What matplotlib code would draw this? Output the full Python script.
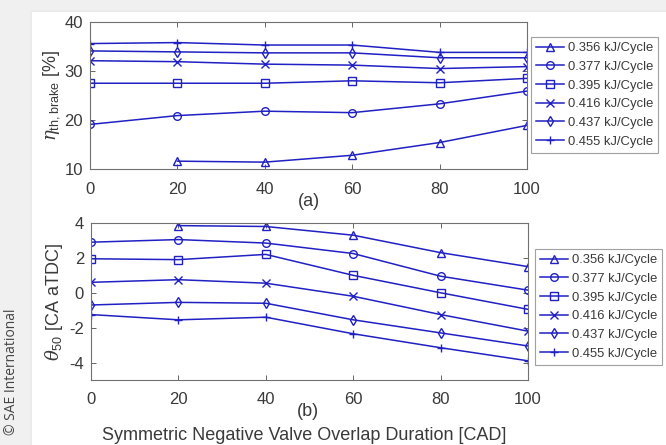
import numpy as np
import matplotlib
matplotlib.use("Agg")
import matplotlib.pyplot as plt
from matplotlib.patches import Rectangle

plt.rcParams["font.family"] = ["Liberation Sans", "DejaVu Sans"]
plt.rcParams["mathtext.fontset"] = "custom"
plt.rcParams["mathtext.rm"] = "Liberation Sans"
plt.rcParams["mathtext.it"] = "DejaVu Serif:italic"
plt.rcParams["axes.unicode_minus"] = False

# --- datos ---
nvo = [0, 20, 40, 60, 80, 100]
cargas = ["0.356 kJ/Cycle", "0.377 kJ/Cycle", "0.395 kJ/Cycle",
          "0.416 kJ/Cycle", "0.437 kJ/Cycle", "0.455 kJ/Cycle"]
marcadores = ["^", "o", "s", "x", "d", "+"]

eta_0356 = [np.nan, 11.6, 11.4, 12.8, 15.4, 18.9]
eta_0377 = [19.1, 20.9, 21.8, 21.5, 23.3, 25.9]
eta_0395 = [27.5, 27.5, 27.5, 28.0, 27.6, 28.5]
eta_0416 = [32.1, 31.9, 31.4, 31.2, 30.5, 30.9]
eta_0437 = [34.1, 33.9, 33.7, 33.7, 32.7, 32.7]
eta_0455 = [35.6, 35.8, 35.3, 35.3, 33.8, 33.8]

ca50_0356 = [np.nan, 3.85, 3.8, 3.3, 2.3, 1.5]
ca50_0377 = [2.9, 3.05, 2.85, 2.25, 0.95, 0.15]
ca50_0395 = [1.95, 1.9, 2.2, 1.0, 0.0, -0.95]
ca50_0416 = [0.6, 0.75, 0.55, -0.2, -1.25, -2.2]
ca50_0437 = [-0.7, -0.55, -0.6, -1.55, -2.3, -3.05]
ca50_0455 = [-1.25, -1.55, -1.4, -2.35, -3.15, -3.9]

eta = [eta_0356, eta_0377, eta_0395, eta_0416, eta_0437, eta_0455]
ca50 = [ca50_0356, ca50_0377, ca50_0395, ca50_0416, ca50_0437, ca50_0455]

azul = "#2020c4"
gris = "#3a3a3a"

fig = plt.figure(figsize=(6.66, 4.45), dpi=100)
fig.patch.set_facecolor("#f0f0f0")

# panel blanco con sombra suave
W, H = 666.0, 445.0
for i, a in enumerate([0.03, 0.05, 0.08]):
    d = 3 - i
    fig.patches.append(Rectangle(((32 - d) / W, 0), 1, 1 - (12 - d) / H,
                                 transform=fig.transFigure, facecolor="#d8d8d8",
                                 alpha=a, edgecolor="none", zorder=-10))
fig.patches.append(Rectangle((32 / W, 0), 1, 1 - 12 / H, transform=fig.transFigure,
                             facecolor="white", edgecolor="none", zorder=-5))

ax1 = fig.add_axes([90 / W, 1 - 169 / H, 437 / W, 147 / H])
ax2 = fig.add_axes([91 / W, 1 - 380 / H, 437 / W, 157 / H])

for ax, datos in [(ax1, eta), (ax2, ca50)]:
    ax.set_facecolor("none")
    for serie, m, lab in zip(datos, marcadores, cargas):
        ax.plot(nvo, serie, color=azul, marker=m, markersize=5.5, mew=1.0,
                markerfacecolor="none", lw=1.1, label=lab)
    ax.set_xlim(0, 100)
    ax.set_xticks([0, 20, 40, 60, 80, 100])
    ax.tick_params(direction="in", length=3.5, width=0.7, colors="#666666",
                   labelcolor=gris, labelsize=12, top=True, right=True)
    ax.tick_params(axis="x", pad=9)
    ax.tick_params(axis="y", pad=5)
    for s in ax.spines.values():
        s.set_color("#707070")
        s.set_linewidth(0.8)

ax1.set_ylim(10, 40)
ax1.set_yticks([10, 20, 30, 40])
ax2.set_ylim(-5, 4)
ax2.set_yticks([-4, -2, 0, 2, 4])

ax1.set_ylabel(r"$\eta_{\mathrm{th,brake}}$ [%]", fontsize=13, color=gris)
ax2.set_ylabel(r"$\theta_{\mathrm{50}}$ [CA aTDC]", fontsize=13, color=gris)
ax1.yaxis.set_label_coords(-28 / 437, 0.5)
ax2.yaxis.set_label_coords(-26 / 437, 0.5)

fig.text(309 / W, 1 - 202 / H, "(a)", ha="center", va="center", fontsize=13, color=gris)
fig.text(308 / W, 1 - 411 / H, "(b)", ha="center", va="center", fontsize=13, color=gris)
fig.text(304 / W, 1 - 435 / H, "Symmetric Negative Valve Overlap Duration [CAD]",
         ha="center", va="center", fontsize=13, color=gris)

leg_kw = dict(loc="upper left", bbox_transform=fig.transFigure, fontsize=9.4,
              frameon=True, fancybox=False, borderaxespad=0, handlelength=2.1,
              labelspacing=0.5, borderpad=0.4, handletextpad=0.3)
for ax, (lx, ly) in [(ax1, (531, 37)), (ax2, (535, 249))]:
    leg = ax.legend(bbox_to_anchor=(lx / W, 1 - ly / H), **leg_kw)
    leg.get_frame().set_edgecolor("#8a8a8a")
    leg.get_frame().set_linewidth(0.8)
    for t in leg.get_texts():
        t.set_color(gris)

fig.text(12 / W, 1 - 372 / H, "\u00a9 SAE International", rotation=90,
         ha="center", va="center", fontsize=10, color="#444444",
         family=["Open Sans", "DejaVu Sans"])

fig.savefig("out.png", dpi=100, facecolor=fig.get_facecolor())
